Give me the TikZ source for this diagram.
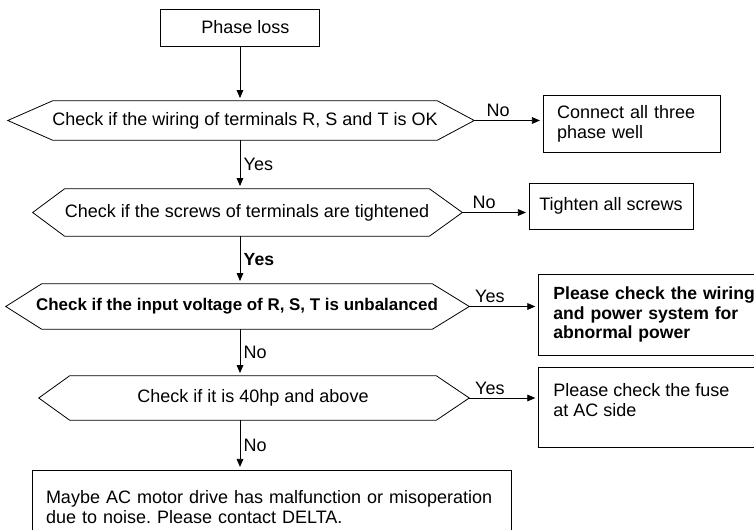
\documentclass[tikz,border=0pt]{standalone}
\usepackage{fontspec}
\setmainfont{Liberation Sans}
\frenchspacing
\usetikzlibrary{arrows.meta,calc}
\tikzset{
  line/.style={line width=0.6pt},
  arr/.style={line, -{Triangle[length=6pt,width=5pt]}, shorten >=2pt},
  txt/.style={font=\fontsize{13.5}{15}\selectfont},
  boldtxt/.style={font=\fontsize{13.2}{14.5}\selectfont\bfseries},
  box/.style={draw, line, txt, inner sep=0pt},
  cond/.style={txt, inner sep=0pt},
  lbl/.style={txt, inner sep=2.5pt},
}
\begin{document}
\begin{tikzpicture}[x=0.75pt,y=-0.75pt]
\useasboundingbox (0,0) rectangle (754,530);

\node[box, minimum width=119.25pt, minimum height=27.75pt] (start) at (240,27.5) {\hspace*{8pt}Phase loss};

% conditions
\node[cond, minimum width=288pt, minimum height=29.25pt] (q1) at (245,120.5) {\makebox[288pt]{Check if the wiring of terminals R, S and T is OK}};
\node[cond, minimum width=268.5pt, minimum height=35.25pt] (q2) at (247,212.5) {Check if the screws of terminals are tightened};
\node[cond, boldtxt, minimum width=292.5pt, minimum height=33.75pt] (q3) at (237,306.5) {\makebox[292.5pt]{\fontsize{12.7}{14}\selectfont Check if the input voltage of R, S, T is unbalanced}};
\node[cond, minimum width=274.5pt, minimum height=33pt] (q4) at (253,398) {Check if it is 40hp and above};
\coordinate (q1w) at ($(q1.west)+(-45,0)$);
\coordinate (q1e) at ($(q1.east)+(37,0)$);
\coordinate (q2w) at ($(q2.west)+(-32,0)$);
\coordinate (q2e) at ($(q2.east)+(33,0)$);
\coordinate (q3w) at ($(q3.west)+(-36,0)$);
\coordinate (q3e) at ($(q3.east)+(37,0)$);
\coordinate (q4w) at ($(q4.west)+(-31,0)$);
\coordinate (q4e) at ($(q4.east)+(33,0)$);
\foreach \n in {q1,q2,q3,q4}
  \draw[line] (\n.north west) -- (\n w) -- (\n.south west) -- (\n.south east) -- (\n e) -- (\n.north east) -- cycle;

% actions
\node[box, align=left, text width=111.75pt, inner xsep=10.5pt, minimum height=42.75pt] (r1) at (631.5,123.5) {Connect all three\\phase well};
\node[box, minimum width=123pt, minimum height=34.5pt] (r2) at (611,206) {Tighten all screws};
\node[box, boldtxt, align=left, text width=160pt, inner xsep=11.25pt, minimum height=60.75pt, anchor=west] (r3) at (538,314.5) {Please check the wiring\\and power system for\\abnormal power};
\node[box, anchor=north west, inner xsep=11.25pt, inner ysep=12pt] (r4) at (538,367) {\parbox[t][36pt][t]{160pt}{\raggedright Please check the fuse\\at AC side}};
\node[box, align=left, text width=338.25pt, inner xsep=10.5pt, minimum height=56.25pt] (fin) at (271.5,507.5) {Maybe AC motor drive has malfunction or misoperation\\due to noise. Please contact DELTA.};

% connectors
\draw[arr] (start) -- (start |- q1.north);
\draw[arr] (q1.south -| start) -- node[lbl,right]{Yes} (q2.north -| start);
\draw[arr] (q2.south -| start) -- node[lbl,right,boldtxt]{Yes} (q3.north -| start);
\draw[arr] (q3.south -| start) -- node[lbl,right]{No} (q4.north -| start);
\draw[arr] (q4.south -| start) -- node[lbl,right]{No} (fin.north -| start);

\draw[arr] (q1e) -- node[lbl,above,pos=.35]{No} (r1.west |- q1e);
\draw[arr] (q2e) -- node[lbl,above,pos=.33]{No} (r2.west |- q2e);
\draw[arr] (q3e) -- node[lbl,above,pos=.3]{Yes} (r3.west |- q3e);
\draw[arr] (q4e) -- node[lbl,above,pos=.3]{Yes} (r4.west |- q4e);
\end{tikzpicture}
\end{document}
